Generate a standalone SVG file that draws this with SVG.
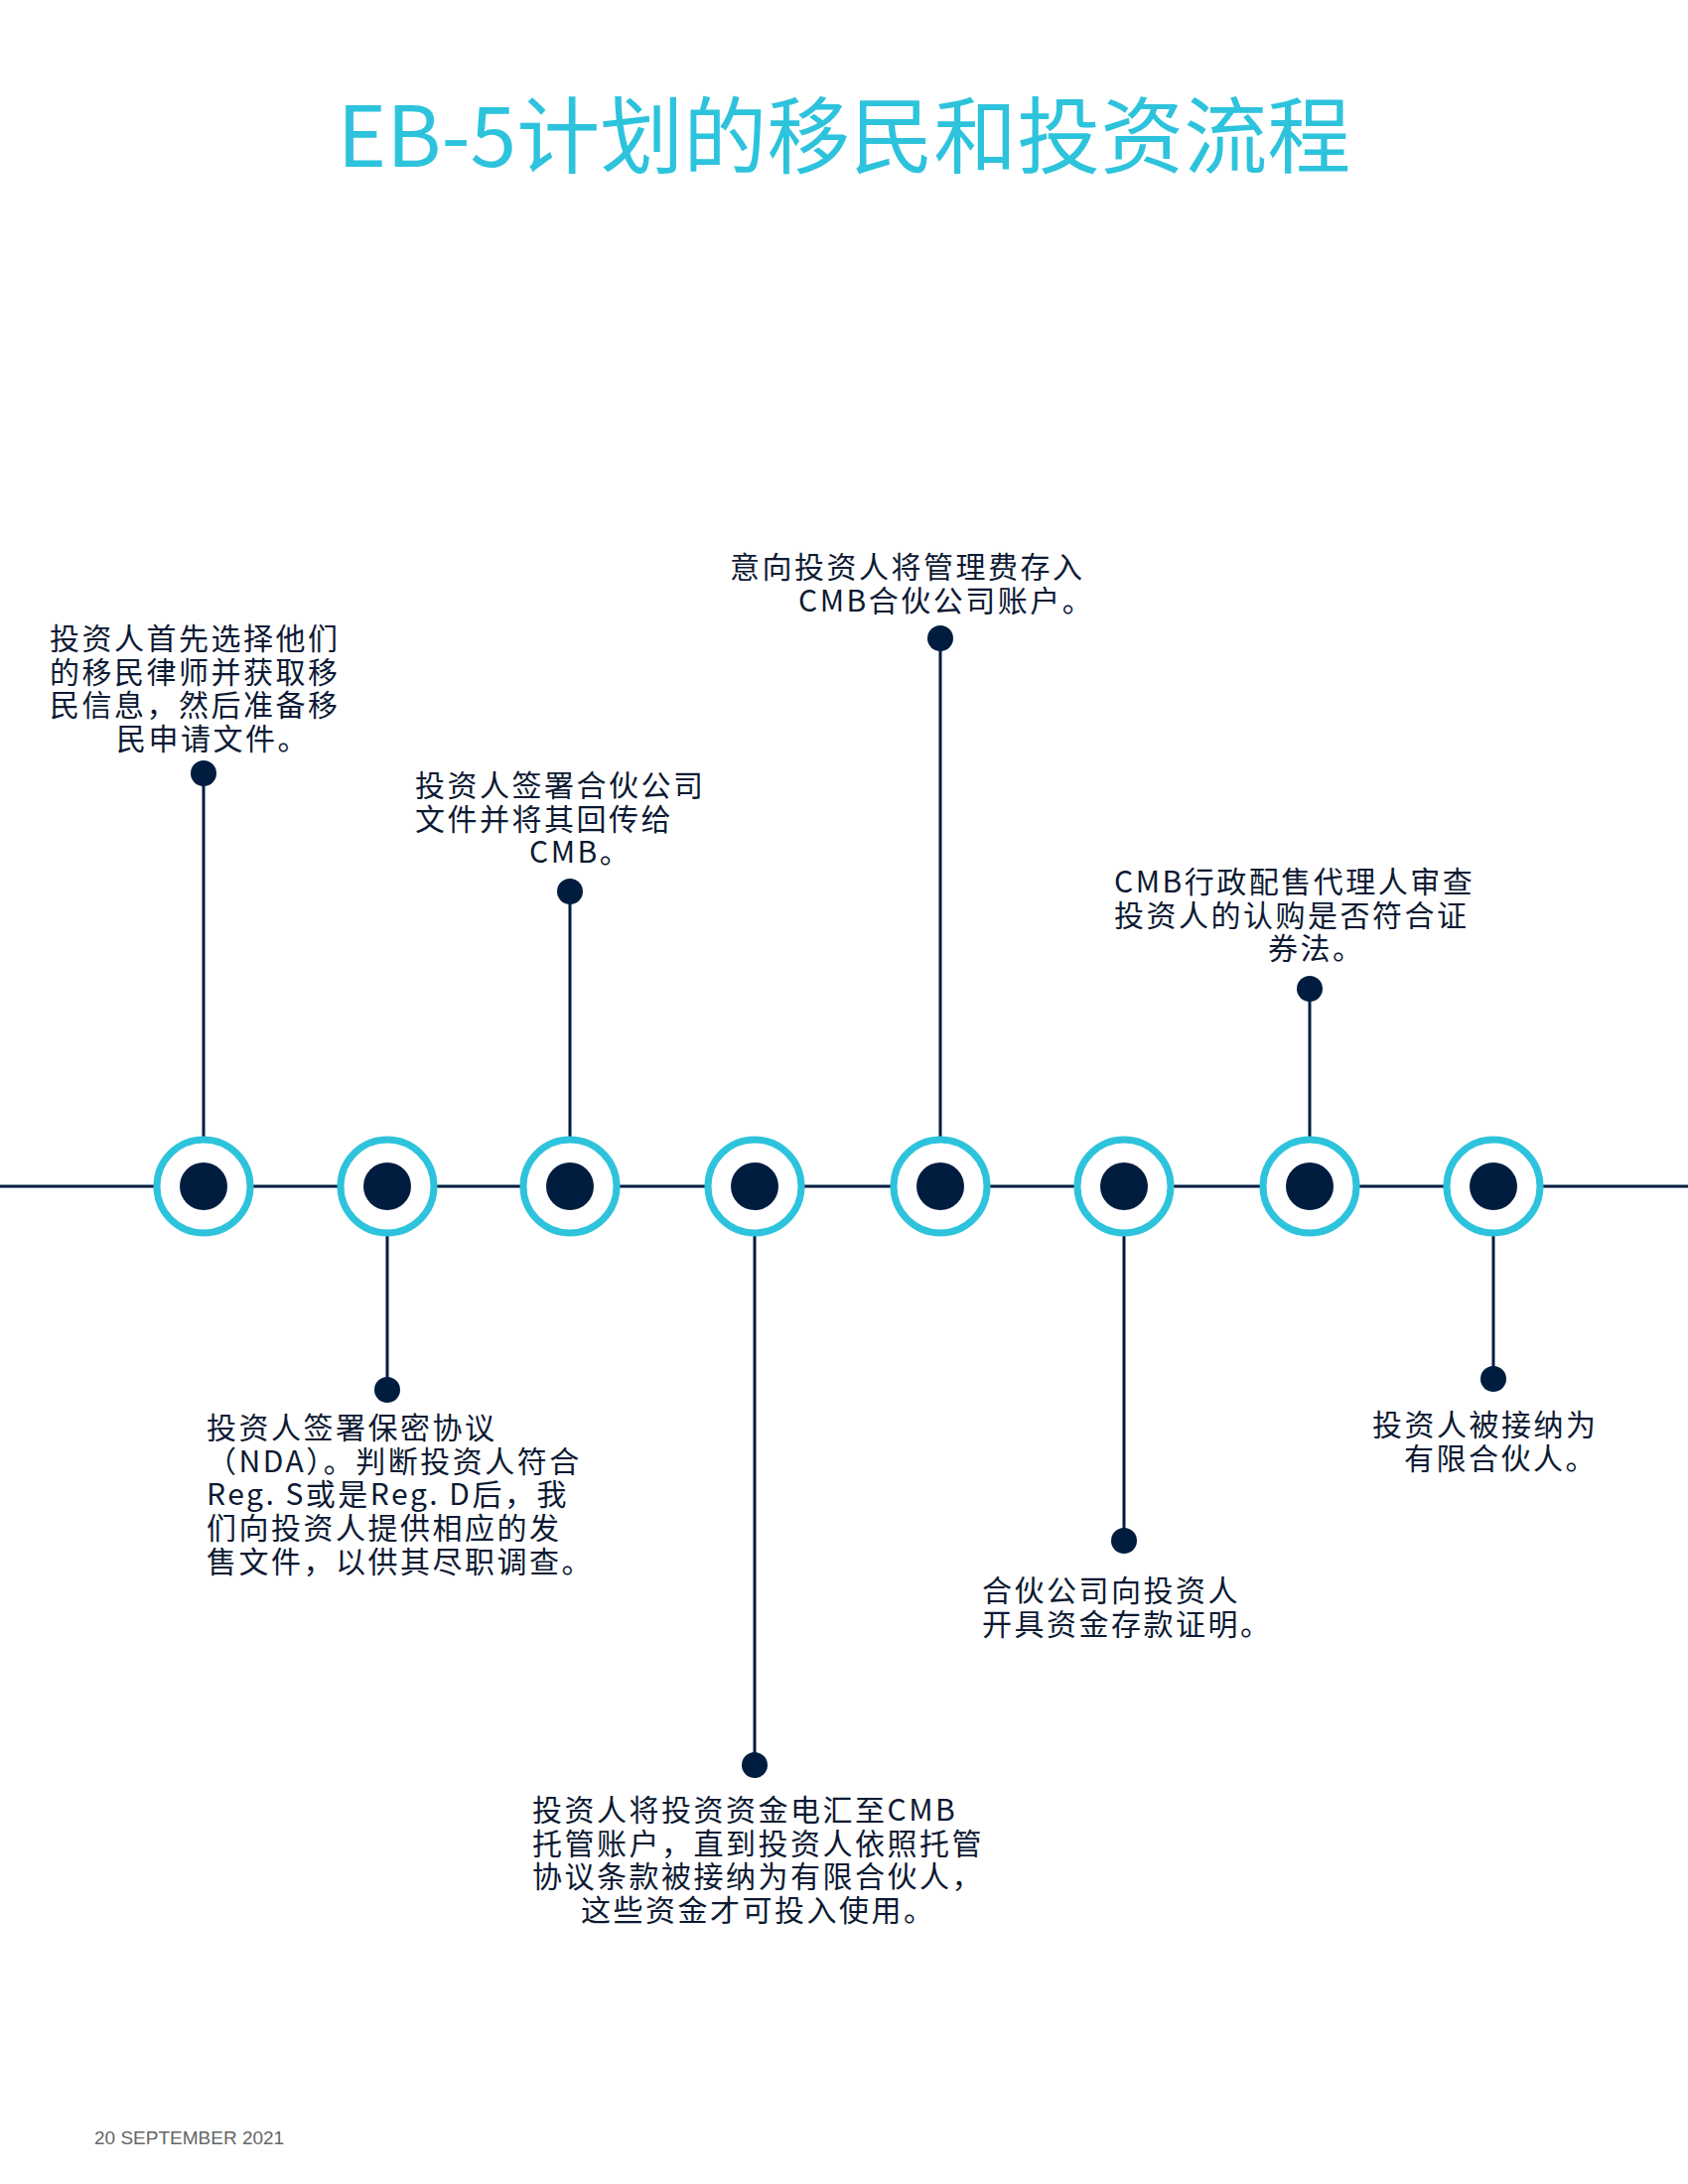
<svg xmlns="http://www.w3.org/2000/svg" width="1700" height="2200" viewBox="0 0 1700 2200">
<style>
.t{font-family:"Noto Sans CJK SC","Noto Sans",sans-serif;font-size:30px;letter-spacing:2.5px;fill:#0d1a33}
.ring{fill:#fff;stroke:#2ec3dc;stroke-width:7}
.dot{fill:#001d40}
.ln{stroke:#001d40;stroke-width:3;fill:none}
</style>
<rect width="1700" height="2200" fill="#fff"/>
<text x="850" y="168" font-family="Noto Sans CJK SC, Noto Sans, sans-serif" font-size="84" fill="#2ec3dc" text-anchor="middle">EB-5计划的移民和投资流程</text>
<g id="connectors">
<line class="ln" x1="0" y1="1195" x2="1700" y2="1195" stroke-width="4"/>
<line class="ln" x1="205" y1="779" x2="205" y2="1195"/>
<line class="ln" x1="390" y1="1195" x2="390" y2="1400"/>
<line class="ln" x1="574" y1="898" x2="574" y2="1195"/>
<line class="ln" x1="760" y1="1195" x2="760" y2="1778"/>
<line class="ln" x1="947" y1="643" x2="947" y2="1195"/>
<line class="ln" x1="1132" y1="1195" x2="1132" y2="1552"/>
<line class="ln" x1="1319" y1="996" x2="1319" y2="1195"/>
<line class="ln" x1="1504" y1="1195" x2="1504" y2="1389"/>
</g>
<g id="n1"><circle class="ring" cx="205" cy="1195" r="47"/><circle class="dot" cx="205" cy="1195" r="24"/><circle class="dot" cx="205" cy="779" r="13"/>
<text class="t"><tspan x="50" y="654">投资人首先选择他们</tspan><tspan x="50" y="688">的移民律师并获取移</tspan><tspan x="50" y="721">民信息，然后准备移</tspan><tspan x="117" y="755">民申请文件。</tspan></text></g>
<g id="n2"><circle class="ring" cx="390" cy="1195" r="47"/><circle class="dot" cx="390" cy="1195" r="24"/><circle class="dot" cx="390" cy="1400" r="13"/>
<text class="t"><tspan x="208" y="1449">投资人签署保密协议</tspan><tspan x="208" y="1483">（NDA）。判断投资人符合</tspan><tspan x="208" y="1516">Reg.  S或是Reg.  D后，我</tspan><tspan x="208" y="1550">们向投资人提供相应的发</tspan><tspan x="208" y="1584">售文件，以供其尽职调查。</tspan></text></g>
<g id="n3"><circle class="ring" cx="574" cy="1195" r="47"/><circle class="dot" cx="574" cy="1195" r="24"/><circle class="dot" cx="574" cy="898" r="13"/>
<text class="t"><tspan x="418" y="802">投资人签署合伙公司</tspan><tspan x="418" y="836">文件并将其回传给</tspan><tspan x="533" y="869">CMB。</tspan></text></g>
<g id="n4"><circle class="ring" cx="760" cy="1195" r="47"/><circle class="dot" cx="760" cy="1195" r="24"/><circle class="dot" cx="760" cy="1778" r="13"/>
<text class="t"><tspan x="536" y="1834">投资人将投资资金电汇至CMB</tspan><tspan x="536" y="1868">托管账户，直到投资人依照托管</tspan><tspan x="536" y="1901">协议条款被接纳为有限合伙人，</tspan><tspan x="585" y="1935">这些资金才可投入使用。</tspan></text></g>
<g id="n5"><circle class="ring" cx="947" cy="1195" r="47"/><circle class="dot" cx="947" cy="1195" r="24"/><circle class="dot" cx="947" cy="643" r="13"/>
<text class="t"><tspan x="735" y="582">意向投资人将管理费存入</tspan><tspan x="804" y="616">CMB合伙公司账户。</tspan></text></g>
<g id="n6"><circle class="ring" cx="1132" cy="1195" r="47"/><circle class="dot" cx="1132" cy="1195" r="24"/><circle class="dot" cx="1132" cy="1552" r="13"/>
<text class="t"><tspan x="989" y="1613">合伙公司向投资人</tspan><tspan x="989" y="1647">开具资金存款证明。</tspan></text></g>
<g id="n7"><circle class="ring" cx="1319" cy="1195" r="47"/><circle class="dot" cx="1319" cy="1195" r="24"/><circle class="dot" cx="1319" cy="996" r="13"/>
<text class="t"><tspan x="1122" y="899">CMB行政配售代理人审查</tspan><tspan x="1122" y="933">投资人的认购是否符合证</tspan><tspan x="1277" y="966">券法。</tspan></text></g>
<g id="n8"><circle class="ring" cx="1504" cy="1195" r="47"/><circle class="dot" cx="1504" cy="1195" r="24"/><circle class="dot" cx="1504" cy="1389" r="13"/>
<text class="t"><tspan x="1382" y="1446">投资人被接纳为</tspan><tspan x="1414" y="1480">有限合伙人。</tspan></text></g>
<text x="95" y="2160" font-family="Liberation Sans, sans-serif" font-size="19" fill="#666">20 SEPTEMBER 2021</text>
</svg>
